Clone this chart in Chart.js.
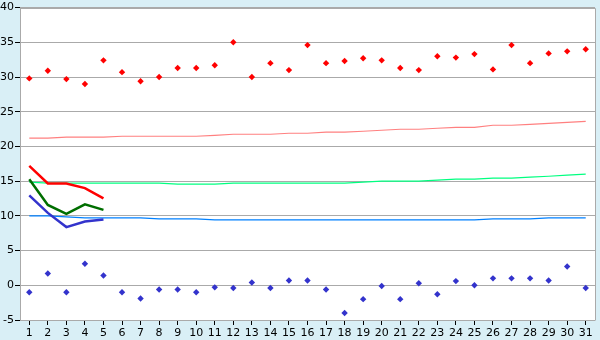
<!DOCTYPE html>
<html>
<head>
<meta charset="utf-8">
<script src="https://cdn.jsdelivr.net/npm/chart.js@4/dist/chart.umd.min.js"></script>
<style>
html,body{margin:0;padding:0;background:#d9eff6;}
canvas{display:block;}
</style>
</head>
<body>
<canvas id="c" width="600" height="340"></canvas>
<script>
const days = ["1","2","3","4","5","6","7","8","9","10","11","12","13","14","15","16","17","18","19","20","21","22","23","24","25","26","27","28","29","30","31"];
const recordMax = [29.8,30.9,29.7,29.0,32.4,30.7,29.4,30.0,31.3,31.3,31.7,35.0,30.0,32.0,31.0,34.6,32.0,32.3,32.7,32.4,31.3,31.0,33.0,32.8,33.3,31.1,34.6,32.0,33.4,33.7,34.0];
const recordMin = [-1.0,1.7,-1.0,3.1,1.4,-1.0,-1.9,-0.6,-0.6,-1.0,-0.3,-0.4,0.4,-0.4,0.7,0.7,-0.6,-4.0,-2.0,-0.1,-2.0,0.3,-1.3,0.6,0.0,1.0,1.0,1.0,0.7,2.7,-0.4];
const normalMax = [21.19,21.19,21.33,21.33,21.33,21.47,21.47,21.47,21.47,21.47,21.6,21.76,21.76,21.76,21.9,21.9,22.05,22.05,22.19,22.33,22.48,22.48,22.62,22.76,22.76,23.05,23.05,23.19,23.33,23.48,23.6];
const normalMean = [14.86,14.71,14.71,14.71,14.71,14.71,14.71,14.71,14.57,14.57,14.57,14.71,14.71,14.71,14.71,14.71,14.71,14.71,14.86,15.0,15.0,15.0,15.14,15.29,15.29,15.43,15.43,15.57,15.71,15.86,16.0];
const normalMin = [10.0,10.0,9.86,9.71,9.71,9.71,9.71,9.57,9.57,9.57,9.43,9.43,9.43,9.43,9.43,9.43,9.43,9.43,9.43,9.43,9.43,9.43,9.43,9.43,9.43,9.57,9.57,9.57,9.71,9.71,9.71];
const currentMax = [17.2,14.67,14.67,14.0,12.52];
const currentMean = [15.28,11.57,10.28,11.67,10.86];
const currentMin = [12.95,10.43,8.38,9.19,9.48];
const yTicks = [-5,0,5,10,15,20,25,30,35,40];

const frame = {
  id: 'frame',
  beforeDraw(chart) {
    const {ctx, chartArea: a} = chart;
    ctx.save();
    ctx.fillStyle = '#d9eff6';
    ctx.fillRect(0, 0, chart.width, chart.height);
    ctx.fillStyle = '#ffffff';
    ctx.fillRect(a.left, a.top, a.right - a.left, a.bottom - a.top);
    ctx.restore();
  },
  afterDraw(chart) {
    const {ctx, chartArea: a} = chart;
    ctx.save();
    ctx.strokeStyle = '#aaaaaa';
    ctx.lineWidth = 1;
    ctx.beginPath();
    ctx.moveTo(Math.round(a.left) + 0.5, Math.round(a.top) + 0.5);
    ctx.lineTo(Math.round(a.right) + 0.5, Math.round(a.top) + 0.5);
    ctx.lineTo(Math.round(a.right) + 0.5, Math.round(a.bottom) + 0.5);
    ctx.stroke();
    ctx.restore();
  }
};

const thin = (data, color, order) => ({data, borderColor: color, backgroundColor: color, borderWidth: 1.2, pointRadius: 0, fill: false, tension: 0, order});
const thick = (data, color, order) => ({data, borderColor: color, backgroundColor: color, borderWidth: 2.5, pointRadius: 0, fill: false, tension: 0, order});
const pts = (data, color, order) => ({data, borderColor: color, backgroundColor: color, showLine: false, pointStyle: 'rectRot', pointRadius: 3.2, pointBorderWidth: 0, order});

new Chart(document.getElementById('c'), {
  type: 'line',
  data: {
    labels: days,
    datasets: [
      thin(normalMax, '#ff8080', 6),
      thin(normalMean, '#00ff80', 5),
      thin(normalMin, '#0080ff', 4),
      thick(currentMax, '#ff0000', 3),
      thick(currentMean, '#006e00', 2),
      thick(currentMin, '#3333cc', 1),
      pts(recordMax, '#ff0000', 0),
      pts(recordMin, '#3333cc', 0)
    ]
  },
  options: {
    responsive: false,
    animation: false,
    devicePixelRatio: 1,
    layout: {padding: {top: 5, right: 5, left: 0, bottom: 0}},
    plugins: {legend: {display: false}, tooltip: {enabled: false}},
    scales: {
      x: {
        offset: true,
        grid: {display: true, drawOnChartArea: false, drawTicks: true, tickLength: 5, color: '#000000', tickColor: '#000000', offset: false},
        border: {display: false},
        ticks: {font: {family: 'DejaVu Sans', size: 11}, color: '#000000', padding: 2, maxRotation: 0, autoSkip: false},
        afterFit(s) { s.height = 20; }
      },
      y: {
        min: -5, max: 40,
        afterBuildTicks(s) { s.ticks = yTicks.map(v => ({value: v})); },
        grid: {color: '#aaaaaa', tickColor: '#000000', tickLength: 5, lineWidth: 1},
        border: {display: true, color: '#aaaaaa'},
        ticks: {font: {family: 'DejaVu Sans', size: 11}, color: '#000000', padding: 1},
        afterFit(s) { s.width = 20; }
      }
    }
  },
  plugins: [frame]
});
</script>
</body>
</html>
